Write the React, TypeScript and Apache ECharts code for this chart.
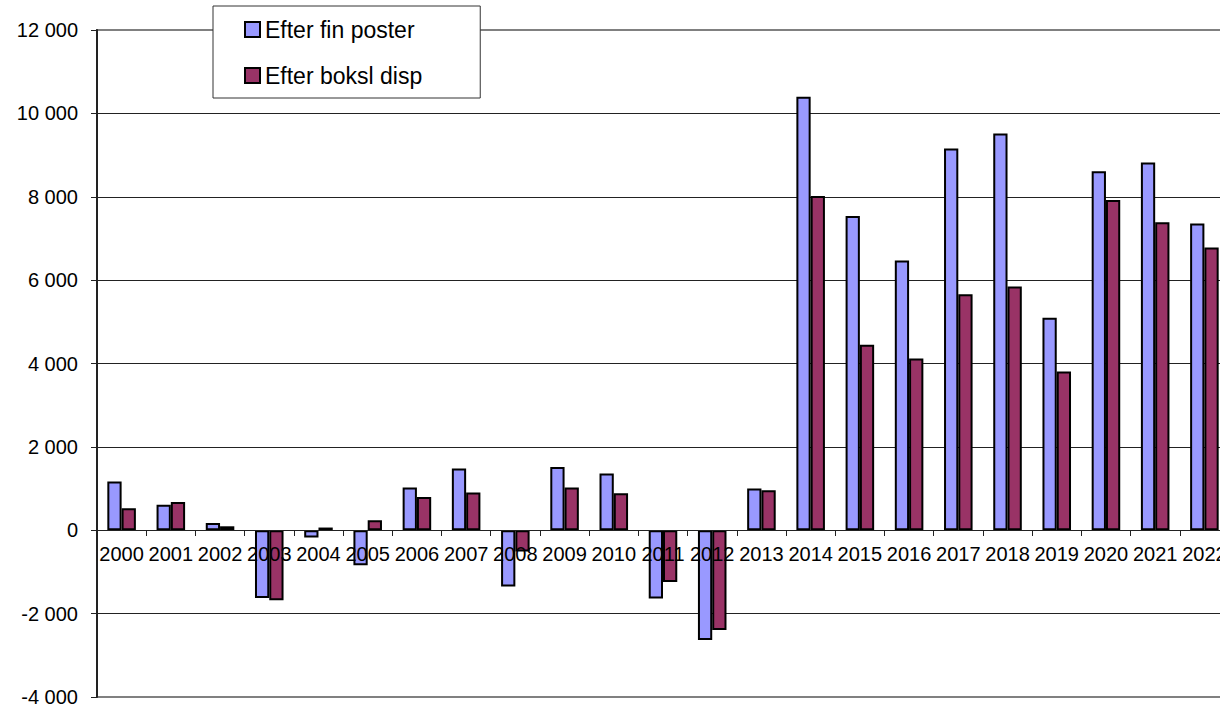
import React, { useEffect, useRef } from "react";
import * as echarts from "echarts";

const years = [
  "2000", "2001", "2002", "2003", "2004", "2005", "2006", "2007", "2008", "2009", "2010", "2011",
  "2012", "2013", "2014", "2015", "2016", "2017", "2018", "2019", "2020", "2021", "2022",
];

const efterFinPoster = [
  1170, 610, 175, -1625, -175, -840, 1025, 1480, -1350, 1520, 1360, -1640,
  -2630, 1000, 10400, 7540, 6470, 9160, 9520, 5100, 8610, 8820, 7360,
];

const efterBokslDisp = [
  530, 680, 95, -1680, 65, 240, 800, 905, -510, 1025, 890, -1240,
  -2390, 960, 8020, 4450, 4120, 5660, 5850, 3810, 7920, 7390, 6780,
];

const seriesNames = ["Efter fin poster", "Efter boksl disp"];
const seriesColors = ["#9999FF", "#993366"];

const yMin = -4000;
const yMax = 12000;
const yStep = 2000;

const FONT = "'Liberation Sans', Arial, Helvetica, sans-serif";

const GRID_TOP = 30;
const GRID_BOTTOM = 9;
const CHART_H = 706;

function fmt(v: number): string {
  const s = String(Math.abs(v)).replace(/\B(?=(\d{3})+(?!\d))/g, " ");
  return (v < 0 ? "-" : "") + s;
}

export default function App() {
  const ref = useRef<HTMLDivElement>(null);

  useEffect(() => {
    if (!ref.current) return;
    const chart = echarts.init(ref.current, null, { renderer: "svg" });
    const barStyle = (c: string) => ({
      color: c,
      borderColor: "#000",
      borderWidth: 2,
    });
    const plotH = CHART_H - GRID_TOP - GRID_BOTTOM;
    // move the category axis up to the zero line of the value axis
    const zeroOffset = -Math.round((plotH * (0 - yMin)) / (yMax - yMin));
    chart.setOption({
      animation: false,
      backgroundColor: "#fff",
      textStyle: { fontFamily: FONT },
      grid: {
        left: 97,
        top: GRID_TOP,
        right: 11,
        bottom: GRID_BOTTOM,
        containLabel: false,
        outerBoundsMode: "none",
        show: true,
        borderColor: "#808080",
        borderWidth: 2,
        backgroundColor: "transparent",
      },
      legend: {
        orient: "vertical",
        left: 213,
        top: 6,
        padding: [12, 58, 11, 31],
        itemGap: 23,
        itemWidth: 15,
        itemHeight: 15,
        icon: "rect",
        backgroundColor: "#fff",
        borderColor: "#333",
        borderWidth: 1,
        borderRadius: 0,
        textStyle: { fontSize: 23, color: "#000", fontFamily: FONT },
        data: seriesNames,
      },
      xAxis: {
        type: "category",
        data: years,
        z: 3,
        position: "bottom",
        offset: zeroOffset,
        axisLine: { onZero: false, lineStyle: { color: "#222", width: 1 } },
        axisTick: { show: true, length: 6, lineStyle: { color: "#222" } },
        axisLabel: {
          interval: 0,
          fontSize: 20,
          color: "#000",
          margin: 14,
          fontFamily: FONT,
          hideOverlap: false,
        },
        splitLine: { show: false },
      },
      yAxis: {
        type: "value",
        min: yMin,
        max: yMax,
        interval: yStep,
        z: 1,
        axisLine: { show: true, lineStyle: { color: "#222", width: 2 } },
        axisTick: { show: true, length: 6, lineStyle: { color: "#222" } },
        axisLabel: {
          fontSize: 20,
          lineHeight: 17,
          color: "#000",
          margin: 19,
          fontFamily: FONT,
          formatter: (v: number) => fmt(v),
        },
        splitLine: {
          show: true,
          showMinLine: false,
          showMaxLine: false,
          lineStyle: { color: "#222", width: 1 },
        },
      },
      series: [
        {
          name: seriesNames[0],
          type: "bar",
          data: efterFinPoster,
          barGap: "0%",
          barCategoryGap: "42%",
          itemStyle: barStyle(seriesColors[0]),
        },
        {
          name: seriesNames[1],
          type: "bar",
          data: efterBokslDisp,
          barGap: "0%",
          barCategoryGap: "42%",
          itemStyle: barStyle(seriesColors[1]),
        },
      ],
    });
    return () => chart.dispose();
  }, []);

  return (
    <div
      style={{
        position: "fixed",
        left: 0,
        top: 0,
        width: 1220,
        height: 706,
        overflow: "hidden",
        background: "#fff",
      }}
    >
      <div ref={ref} style={{ width: 1240, height: 706 }} />
    </div>
  );
}
